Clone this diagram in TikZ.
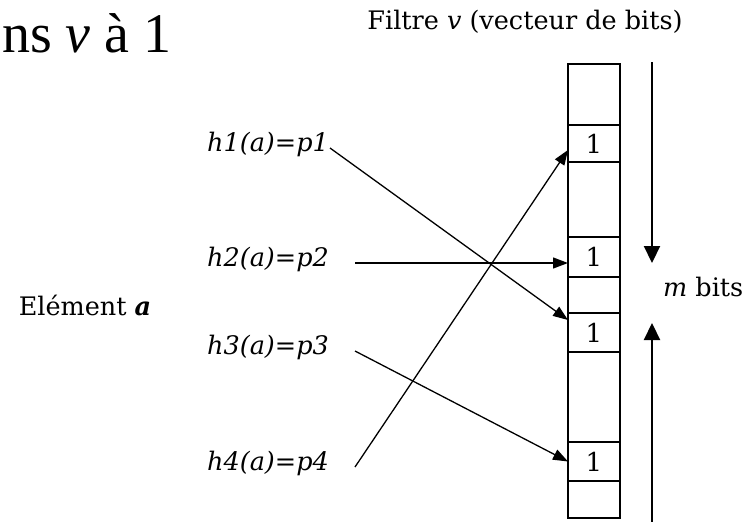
\documentclass[tikz,border=0pt]{standalone}
\usepackage{fontspec}
\setmainfont{DejaVu Serif}
\newfontfamily\timesfont{Liberation Serif}
\usetikzlibrary{arrows.meta,calc}
\begin{document}
\begin{tikzpicture}[x=1pt,y=-1pt,
  cell/.style={draw,line width=1.3pt,minimum width=52pt,inner sep=0pt,outer sep=0pt,anchor=north west,font=\fontsize{26}{26}\selectfont},
  lbl/.style={inner sep=0pt,font=\fontsize{25.5}{25.5}\selectfont\itshape},
  txt/.style={inner sep=0pt,font=\fontsize{25.5}{25.5}\selectfont},
  ptr/.style={line width=1.3pt,-{Triangle[length=15pt,width=11pt]}},
  big/.style={line width=2.2pt,-{Triangle[length=17pt,width=16pt]}}]
\useasboundingbox (0,0) rectangle (745,522);
% top-left cropped heading
\node[anchor=base west,inner sep=0pt] (head) at (2,52) {\timesfont\fontsize{56}{56}\selectfont ns \textit{v} à 1};
% title
\node[txt] (title) at (525,22) {Filtre \textit{v} (vecteur de bits)};
% bit vector
\node[cell,minimum height=61pt] (c0) at (568,64) {};
\node[cell,minimum height=37pt] (c1) at (c0.south west) {1};
\node[cell,minimum height=75pt] (c2) at (c1.south west) {};
\node[cell,minimum height=40pt] (c3) at (c2.south west) {1};
\node[cell,minimum height=36pt] (c4) at (c3.south west) {};
\node[cell,minimum height=39pt] (c5) at (c4.south west) {1};
\node[cell,minimum height=90pt] (c6) at (c5.south west) {};
\node[cell,minimum height=39pt] (c7) at (c6.south west) {1};
\node[cell,minimum height=37pt] (c8) at (c7.south west) {};
% labels
\node[txt] (elem) at (85,305) {Elément \textbf{\textit{a}}};
\node[lbl] (h1) at (268,144) {h1(a)=p1};
\node[lbl] (h2) at (268,259) {h2(a)=p2};
\node[lbl] (h3) at (268,347) {h3(a)=p3};
\node[lbl] (h4) at (268,463) {h4(a)=p4};
\node[txt,anchor=west] (mbits) at (663,287) {\textit{m} bits};
% arrow ends
\coordinate (s1) at (330,148);
\coordinate (s2) at (355,263);
\coordinate (s3) at (355,351);
\coordinate (s4) at (355,467);
\coordinate (t1) at ($(c5.north west)+(0,7)$);
\coordinate (t2) at ($(c3.north west)+(0,26)$);
\coordinate (t3) at (c7.west);
\coordinate (t4) at ($(c1.north west)+(0,25)$);
\draw[ptr] (s1) -- (t1);
\draw[ptr] (s2) -- (t2);
\draw[ptr] (s3) -- (t3);
\draw[ptr] (s4) -- (t4);
% m bits arrows
\coordinate (dtop) at (652,62);
\coordinate (dtip) at (652,263);
\coordinate (ubot) at (652,522);
\coordinate (utip) at (652,323);
\draw[big] (dtop) -- (dtip);
\draw[big] (ubot) -- (utip);
\end{tikzpicture}
\end{document}
